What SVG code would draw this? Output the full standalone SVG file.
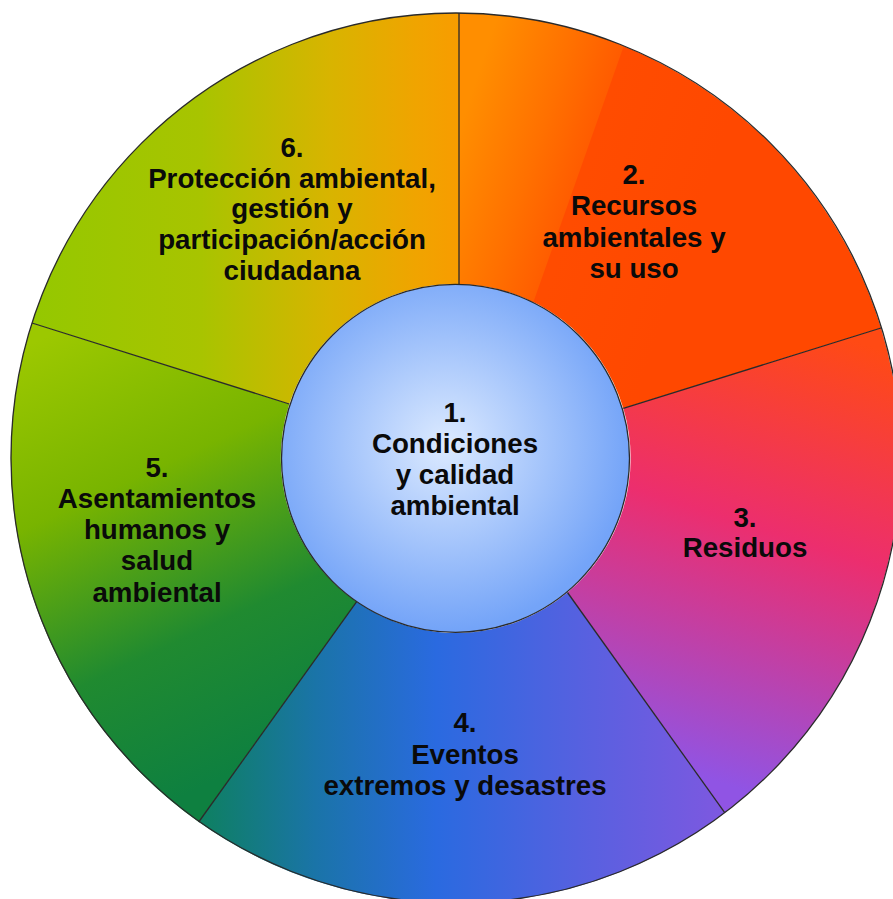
<svg xmlns="http://www.w3.org/2000/svg" width="893" height="899" viewBox="0 0 893 899">
<style>
.lbl{font-family:"Liberation Sans",Arial,sans-serif;font-weight:bold;font-size:27.7px;fill:#0a0a0a;text-anchor:middle}
.div{stroke:#2a2a2a;stroke-width:1.3;fill:none}
</style>
<defs>
<linearGradient id="g6" gradientUnits="userSpaceOnUse" x1="30" y1="0" x2="459" y2="0">
<stop offset="0" stop-color="#94c800"/><stop offset="0.4" stop-color="#a8c400"/><stop offset="0.7" stop-color="#d8b400"/><stop offset="0.9" stop-color="#f0a400"/><stop offset="1" stop-color="#f89c00"/>
</linearGradient>
<linearGradient id="g2" gradientUnits="userSpaceOnUse" x1="459" y1="130" x2="585" y2="172">
<stop offset="0" stop-color="#ff8e00"/><stop offset="0.6" stop-color="#ff7000"/><stop offset="1" stop-color="#ff5a00"/><stop offset="1" stop-color="#ff4a00"/>
</linearGradient>
<linearGradient id="g2b" gradientUnits="userSpaceOnUse" x1="585" y1="172" x2="700" y2="210">
<stop offset="0" stop-color="#ff4c00"/><stop offset="1" stop-color="#ff4800"/>
</linearGradient>
<linearGradient id="g3" gradientUnits="userSpaceOnUse" x1="820" y1="330" x2="680" y2="770">
<stop offset="0" stop-color="#ff4a14"/><stop offset="0.45" stop-color="#ec2e6e"/><stop offset="1" stop-color="#9054e4"/>
</linearGradient>
<linearGradient id="g4" gradientUnits="userSpaceOnUse" x1="200" y1="0" x2="725" y2="0">
<stop offset="0" stop-color="#0e8060"/><stop offset="0.22" stop-color="#1a74a8"/><stop offset="0.45" stop-color="#2a6ae0"/><stop offset="0.75" stop-color="#5a60e0"/><stop offset="1" stop-color="#7e58e0"/>
</linearGradient>
<linearGradient id="g5" gradientUnits="userSpaceOnUse" x1="60" y1="330" x2="260" y2="760">
<stop offset="0" stop-color="#9cc800"/><stop offset="0.35" stop-color="#78b400"/><stop offset="0.7" stop-color="#208a30"/><stop offset="1" stop-color="#0e8040"/>
</linearGradient>
<radialGradient id="gc" gradientUnits="userSpaceOnUse" cx="445" cy="445" r="185">
<stop offset="0" stop-color="#dceaff"/><stop offset="1" stop-color="#74a4f8"/>
</radialGradient>
<clipPath id="c2"><path d="M459,13 A445,445 0 0 1 881,328 L623.3,408.3 A174,174 0 0 0 459,284 Z"/></clipPath>
</defs>

<g id="node-6">
<path d="M32,323 A445,445 0 0 1 459,13 L459,284 A174,174 0 0 0 289.3,404 Z" fill="url(#g6)"/>
<text class="lbl" x="292" y="157">6.</text>
<text class="lbl" x="292" y="188">Protección ambiental,</text>
<text class="lbl" x="292" y="218">gestión y</text>
<text class="lbl" x="292" y="249">participación/acción</text>
<text class="lbl" x="292" y="280">ciudadana</text>
</g>
<g id="node-2">
<path d="M459,13 A445,445 0 0 1 881,328 L623.3,408.3 A174,174 0 0 0 459,284 Z" fill="url(#g2b)"/>
<path d="M459,0 L640,0 L520,340 L459,340 Z" fill="url(#g2)" clip-path="url(#c2)"/>
<text class="lbl" x="634" y="184">2.</text>
<text class="lbl" x="634" y="215">Recursos</text>
<text class="lbl" x="634" y="247">ambientales y</text>
<text class="lbl" x="634" y="278">su uso</text>
</g>
<g id="node-3">
<path d="M881,328 A445,445 0 0 1 724.7,812.7 L567.5,592.5 A174,174 0 0 0 623.3,408.3 Z" fill="url(#g3)"/>
<text class="lbl" x="745" y="527">3.</text>
<text class="lbl" x="745" y="557">Residuos</text>
</g>
<g id="node-4">
<path d="M724.7,812.7 A445,445 0 0 1 198.7,822 L356.7,601.7 A174,174 0 0 0 567.5,592.5 Z" fill="url(#g4)"/>
<text class="lbl" x="465" y="732">4.</text>
<text class="lbl" x="465" y="764">Eventos</text>
<text class="lbl" x="465" y="795">extremos y desastres</text>
</g>
<g id="node-5">
<path d="M198.7,822 A445,445 0 0 1 32,323 L289.3,404 A174,174 0 0 0 356.7,601.7 Z" fill="url(#g5)"/>
<text class="lbl" x="157" y="477">5.</text>
<text class="lbl" x="157" y="508">Asentamientos</text>
<text class="lbl" x="157" y="539">humanos y</text>
<text class="lbl" x="157" y="570">salud</text>
<text class="lbl" x="157" y="602">ambiental</text>
</g>

<g id="connectors">
<circle class="div" cx="456" cy="458" r="445"/>
<line class="div" x1="459" y1="13" x2="459" y2="284"/>
<line class="div" x1="881" y1="328" x2="623.3" y2="408.3"/>
<line class="div" x1="724.7" y1="812.7" x2="567.5" y2="592.5"/>
<line class="div" x1="198.7" y1="822" x2="356.7" y2="601.7"/>
<line class="div" x1="32" y1="323" x2="289.3" y2="404"/>
</g>

<g id="node-1">
<circle cx="455.5" cy="458.3" r="174" fill="url(#gc)" stroke="#2a2a2a" stroke-width="1.3"/>
<text class="lbl" x="455" y="422">1.</text>
<text class="lbl" x="455" y="453">Condiciones</text>
<text class="lbl" x="455" y="484">y calidad</text>
<text class="lbl" x="455" y="515">ambiental</text>
</g>
</svg>
